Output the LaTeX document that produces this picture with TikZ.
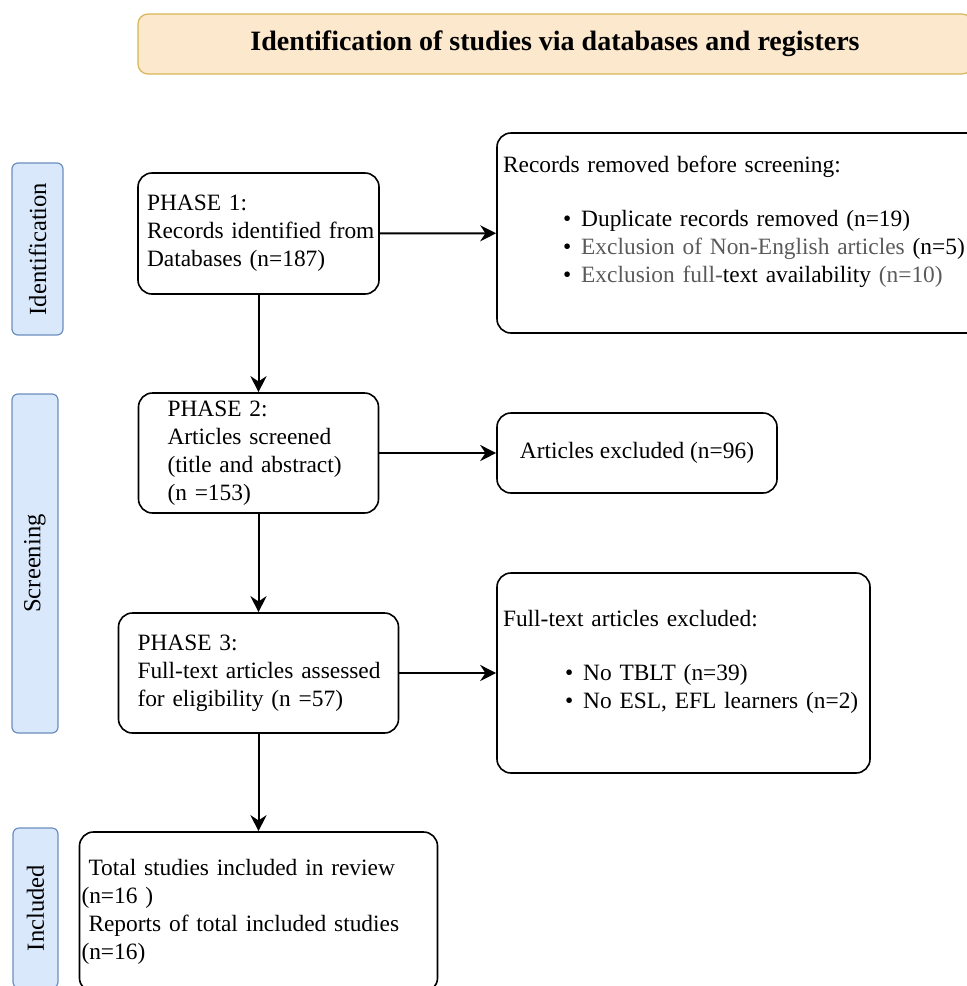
\documentclass[tikz,border=0pt]{standalone}
\usepackage{fontspec}
\setmainfont{Liberation Serif}
\usetikzlibrary{arrows.meta}
\definecolor{titlefill}{RGB}{252,232,205}
\definecolor{titleline}{RGB}{214,182,86}
\definecolor{sidefill}{RGB}{218,232,252}
\definecolor{sideline}{RGB}{108,142,191}
\definecolor{greytext}{RGB}{90,90,90}

\begin{document}
\begin{tikzpicture}[x=0.5pt, y=-0.5pt,
  box/.style={draw, line width=0.8pt, rounded corners=7pt, align=left,
    font=\fontsize{11.7}{14}\selectfont},
  sidebox/.style={draw=sideline, fill=sidefill, line width=0.6pt, rounded corners=3pt},
  sidetext/.style={rotate=90, font=\fontsize{12.3}{14}\selectfont},
  arrow/.style={-{Stealth[length=8pt, width=8pt]}, line width=1pt}]
  \path[use as bounding box, clip] (0,0) rectangle (967,986);

  % Title bar
  \node[draw=titleline, fill=titlefill, line width=0.6pt, rounded corners=5pt,
    minimum width=417pt, minimum height=30pt,
    font=\fontsize{14}{16}\selectfont\bfseries] (title) at (555,44)
    {Identification of studies via databases and registers};

  % Side labels
  \node[sidebox, minimum width=25.5pt, minimum height=86pt] (ident) at (37.5,249) {};
  \node[sidetext] (identtxt) at (ident.center) {Identification};
  \node[sidebox, minimum width=23pt, minimum height=169.5pt] (screen) at (35,563.5) {};
  \node[sidetext] (screentxt) at (screen.center) {Screening};
  \node[sidebox, minimum width=22.5pt, minimum height=80pt] (incl) at (35.5,908) {};
  \node[sidetext] (incltxt) at (incl.center) {Included};

  % Phase boxes
  \node[box, text width=111.5pt, inner xsep=4.5pt, minimum height=60.5pt] (P1) at (258.5,233.5)
    {PHASE 1:\\ \mbox{Records identified from}\\ Databases (n=187)};
  \node[box, text width=91pt, inner xsep=14.5pt, minimum height=60pt] (P2) at (258.5,453)
    {PHASE 2:\\ Articles screened\\ \mbox{(title and abstract)}\\ (n =153)};
  \node[box, text width=121pt, inner xsep=9.5pt, minimum height=60pt] (P3) at (258.5,673)
    {PHASE 3:\\ \mbox{Full-text articles assessed}\\ \mbox{for eligibility (n =57)}};
  \node[box, text width=177pt, inner xsep=1pt, minimum height=80pt] (P4) at (258.5,912)
    {\hspace*{3.5pt}Total studies included in review\\ (n=16 )\\
     \hspace*{3.5pt}Reports of total included studies\\ (n=16)};

  % Exclusion boxes
  \node[box, text width=238pt, inner xsep=3pt, minimum height=100pt] (removed) at (741,233)
    {Records removed before screening:\\[13pt]
     \mbox{\hspace*{30pt}\textbullet\hspace{5pt}Duplicate records removed (n=19)}\\
     \mbox{\hspace*{30pt}\textbullet\hspace{5pt}\textcolor{greytext}{Exclusion of Non-English articles} (n=5)}\\
     \mbox{\hspace*{30pt}\textbullet\hspace{5pt}\textcolor{greytext}{Exclusion full-}text availability \textcolor{greytext}{(n=10)}}\\ ~};
  \node[box, align=center, minimum width=140pt, minimum height=40pt] (excl) at (637,453)
    {Articles excluded (n=96)};
  \node[box, text width=180.5pt, inner xsep=3pt, minimum height=100pt] (fulltext) at (683.5,673)
    {Full-text articles excluded:\\[13pt]
     \mbox{\hspace*{31pt}\textbullet\hspace{5pt}No TBLT (n=39)}\\
     \mbox{\hspace*{31pt}\textbullet\hspace{5pt}No ESL, EFL learners (n=2)}\\ ~};

  % Arrows down
  \draw[arrow] (P1) -- (P2);
  \draw[arrow] (P2) -- (P3);
  \draw[arrow] (P3) -- (P4);

  % Arrows right
  \draw[arrow] (P1) -- (removed);
  \draw[arrow] (P2) -- (excl);
  \draw[arrow] (P3) -- (fulltext);
\end{tikzpicture}
\end{document}
